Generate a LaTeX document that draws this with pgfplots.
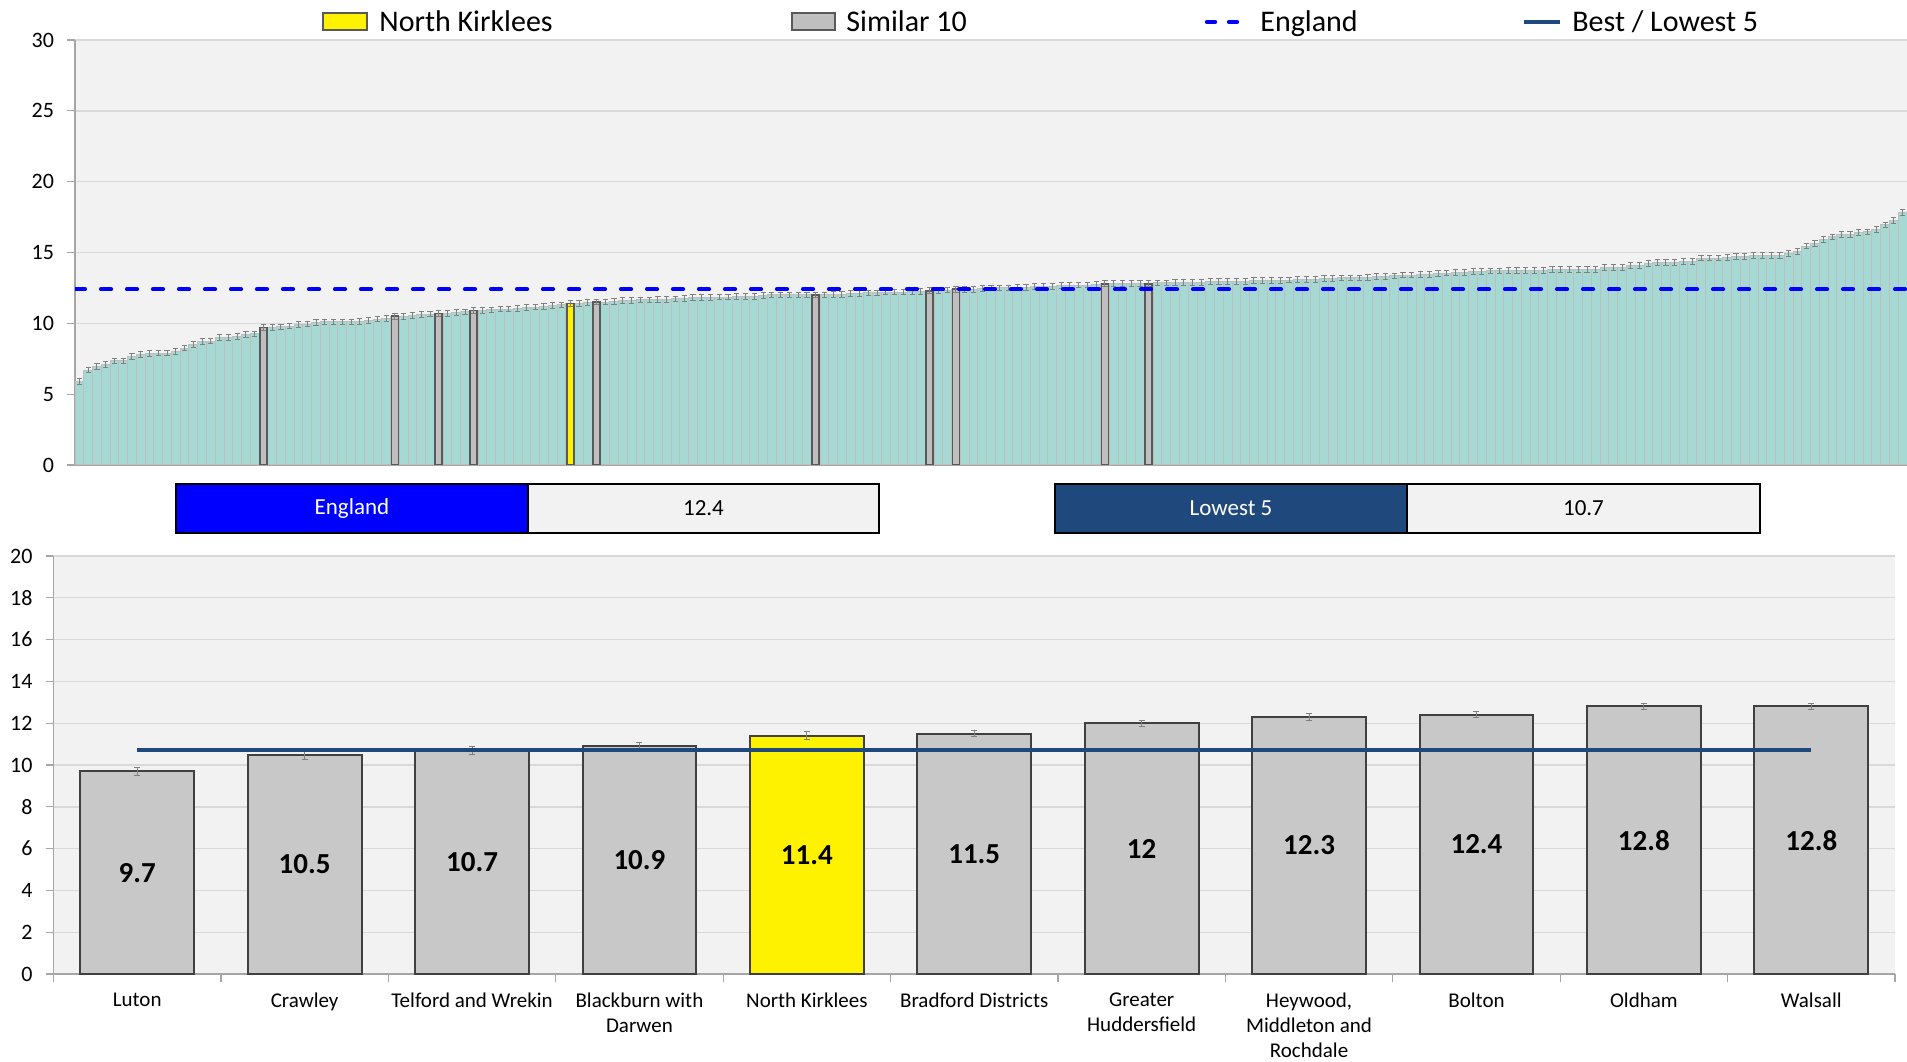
\documentclass[border=0pt]{standalone}
\usepackage{fontspec}
\setmainfont{Carlito}
\usepackage{pgfplots}
\pgfplotsset{compat=1.18}

\definecolor{tealbar}{RGB}{166,217,211}
\definecolor{tealedge}{RGB}{190,190,190}
\definecolor{simfill}{RGB}{191,191,191}
\definecolor{simedge}{RGB}{89,89,89}
\definecolor{botfill}{RGB}{200,200,200}
\definecolor{botedge}{RGB}{64,64,64}
\definecolor{plotbg}{RGB}{242,242,242}
\definecolor{gridc}{RGB}{217,217,217}
\definecolor{axisc}{RGB}{166,166,166}
\definecolor{engblue}{RGB}{0,0,255}
\definecolor{navy}{RGB}{31,73,125}
\definecolor{errc}{RGB}{128,128,128}

\pgfplotsset{
  chartbase/.style={
    scale only axis,
    axis x line*=bottom, axis y line*=left,
    axis line style={-, draw=axisc, line width=0.8pt},
    axis background/.style={fill=plotbg},
    ymajorgrids, grid style={draw=gridc, line width=0.7pt},
    tick align=outside, major tick length=4pt,
    tick style={draw=axisc, line width=0.6pt},
    /pgf/number format/assume math mode=true,
    yticklabel style={font=\fontsize{11}{13}\selectfont, xshift=-3pt},
  },
  barbase/.style={ybar, bar shift=0pt},
  errtop/.style={
    error bars/y dir=both, error bars/y fixed=0.2,
    error bars/error bar style={draw=errc, line width=0.5pt},
    error bars/error mark options={rotate=90, draw=errc, mark size=1.3pt, line width=0.5pt},
  },
  errbot/.style={
    error bars/y dir=both, error bars/y explicit,
    error bars/error bar style={draw=errc, line width=0.5pt},
    error bars/error mark options={rotate=90, draw=errc, mark size=1.5pt, line width=0.5pt},
  },
  valnodes/.style={
    nodes near coords,
    visualization depends on={y \as \rawy},
    every node near coord/.append style={
      font=\bfseries\fontsize{14.5}{16}\selectfont, text=black,
      anchor=center, shift={(axis direction cs:0,-\rawy/2)}},
  },
}

\begin{document}
\begin{tikzpicture}[x=1pt,y=1pt]

% all CCGs, sorted
\begin{axis}[chartbase,
  at={(37.5pt,298pt)}, anchor=south west, width=916pt, height=212.5pt,
  xmin=-0.5, xmax=208.5, ymin=0, ymax=30, ytick={0,5,...,30}, xtick=\empty]
\addplot[barbase, bar width=1, fill=tealbar, draw=tealedge, line width=0.5pt, errtop] coordinates {
(0,5.9) (1,6.7) (2,6.95) (3,7.1) (4,7.35) (5,7.35) (6,7.65) (7,7.8) (8,7.85) (9,7.9)
(10,7.9) (11,8.0) (12,8.25) (13,8.5) (14,8.7) (15,8.75) (16,9.0) (17,9.0) (18,9.05) (19,9.2)
(20,9.25) (21,9.7) (22,9.7) (23,9.75) (24,9.8) (25,9.9) (26,9.95) (27,10.05) (28,10.1) (29,10.1)
(30,10.1) (31,10.1) (32,10.15) (33,10.2) (34,10.3) (35,10.35) (36,10.5) (37,10.5) (38,10.55) (39,10.6)
(40,10.65) (41,10.7) (42,10.7) (43,10.75) (44,10.8) (45,10.9) (46,10.9) (47,10.95) (48,11.0) (49,11.0)
(50,11.05) (51,11.1) (52,11.15) (53,11.2) (54,11.25) (55,11.3) (56,11.4) (57,11.4) (58,11.45) (59,11.5)
(60,11.5) (61,11.55) (62,11.6) (63,11.6) (64,11.65) (65,11.65) (66,11.7) (67,11.7) (68,11.72) (69,11.75)
(70,11.8) (71,11.8) (72,11.82) (73,11.85) (74,11.85) (75,11.88) (76,11.9) (77,11.9) (78,11.95) (79,12.0)
(80,12.0) (81,12.0) (82,12.0) (83,12.0) (84,12.0) (85,12.0) (86,12.05) (87,12.05) (88,12.1) (89,12.1)
(90,12.15) (91,12.15) (92,12.2) (93,12.2) (94,12.2) (95,12.25) (96,12.25) (97,12.3) (98,12.3) (99,12.35)
(100,12.4) (101,12.4) (102,12.4) (103,12.45) (104,12.5) (105,12.5) (106,12.5) (107,12.55) (108,12.55) (109,12.6)
(110,12.6) (111,12.6) (112,12.65) (113,12.65) (114,12.7) (115,12.7) (116,12.75) (117,12.8) (118,12.8) (119,12.8)
(120,12.8) (121,12.8) (122,12.8) (123,12.85) (124,12.85) (125,12.9) (126,12.9) (127,12.9) (128,12.9) (129,12.95)
(130,12.95) (131,12.95) (132,12.95) (133,12.95) (134,13.0) (135,13.0) (136,13.0) (137,13.0) (138,13.05) (139,13.1)
(140,13.1) (141,13.1) (142,13.15) (143,13.15) (144,13.2) (145,13.2) (146,13.2) (147,13.25) (148,13.3) (149,13.3)
(150,13.35) (151,13.4) (152,13.4) (153,13.45) (154,13.45) (155,13.5) (156,13.55) (157,13.6) (158,13.6) (159,13.65)
(160,13.65) (161,13.7) (162,13.7) (163,13.75) (164,13.75) (165,13.75) (166,13.75) (167,13.75) (168,13.8) (169,13.8)
(170,13.8) (171,13.8) (172,13.8) (173,13.8) (174,13.95) (175,13.95) (176,13.95) (177,14.1) (178,14.1) (179,14.2)
(180,14.3) (181,14.3) (182,14.3) (183,14.35) (184,14.35) (185,14.6) (186,14.6) (187,14.6) (188,14.65) (189,14.7)
(190,14.7) (191,14.8) (192,14.8) (193,14.8) (194,14.8) (195,14.95) (196,15.05) (197,15.45) (198,15.65) (199,15.9)
(200,16.1) (201,16.25) (202,16.25) (203,16.4) (204,16.45) (205,16.6) (206,16.95) (207,17.25) (208,17.8)
};
% similar 10
\addplot[barbase, bar width=0.8, fill=simfill, draw=simedge, line width=0.9pt, errtop] coordinates {
(21,9.7) (36,10.5) (41,10.7) (45,10.9) (59,11.5) (84,12.0) (97,12.3) (100,12.4) (117,12.8) (122,12.8)
};
% North Kirklees
\addplot[barbase, bar width=0.8, fill=yellow, draw=simedge, line width=0.9pt, errtop] coordinates {(56,11.4)};
% England
\addplot[sharp plot, draw=engblue, line width=2.1pt, line cap=round, dash pattern=on 5pt off 8pt] coordinates {(-0.5,12.4) (208.5,12.4)};
\end{axis}

% similar 10 detail
\begin{axis}[chartbase,
  at={(26.75pt,43.5pt)}, anchor=south west, width=920.75pt, height=209pt,
  xmin=-0.5, xmax=10.5, ymin=0, ymax=20, ytick={0,2,...,20},
  xtick={-0.5,0.5,...,10.5}, xticklabels={},
  extra x ticks={0,1,...,10},
  extra x tick labels={Luton, Crawley, Telford and Wrekin, {Blackburn with\\Darwen}, North Kirklees,
    Bradford Districts, {Greater\\Huddersfield}, {Heywood,\\Middleton and\\Rochdale}, Bolton, Oldham, Walsall},
  extra x tick style={major tick length=0pt,
    xticklabel style={font=\fontsize{10.5}{12.4}\selectfont, align=center, anchor=north, yshift=-6pt}},
]
\addplot[barbase, bar width=0.68, fill=botfill, draw=botedge, line width=1pt, errbot, valnodes] coordinates {
(0,9.7) +- (0,0.2)
(1,10.5) +- (0,0.25)
(2,10.7) +- (0,0.2)
(3,10.9) +- (0,0.2)
(5,11.5) +- (0,0.15)
(6,12.0) +- (0,0.15)
(7,12.3) +- (0,0.15)
(8,12.4) +- (0,0.15)
(9,12.8) +- (0,0.15)
(10,12.8) +- (0,0.15)
};
\addplot[barbase, bar width=0.68, fill=yellow, draw=botedge, line width=1pt, errbot, valnodes] coordinates {
(4,11.4) +- (0,0.2)
};
% lowest 5
\addplot[sharp plot, draw=navy, line width=2.1pt] coordinates {(0,10.7) (10,10.7)};
\end{axis}

% legend
\begin{scope}[font=\fontsize{15}{17}\selectfont]
\draw[fill=yellow, draw=simedge, line width=0.8pt] (161.5,515.5) rectangle (183.5,524);
\node[anchor=base west, inner sep=0pt] at (189.5,514.6) {North Kirklees};
\draw[fill=simfill, draw=simedge, line width=0.8pt] (396,515.5) rectangle (417.5,524);
\node[anchor=base west, inner sep=0pt] at (423,514.6) {Similar 10};
\draw[engblue, line width=2.2pt, line cap=round, dash pattern=on 4pt off 7pt] (603.5,519.5) -- (624,519.5);
\node[anchor=base west, inner sep=0pt] at (630,514.6) {England};
\draw[navy, line width=2.2pt] (762,519.5) -- (780,519.5);
\node[anchor=base west, inner sep=0pt] at (786,514.6) {Best / Lowest 5};
\end{scope}

% value boxes
\begin{scope}[font=\fontsize{11.5}{13}\selectfont]
\draw[line width=1.1pt, fill=engblue] (88,264) rectangle (264,288.5);
\node[text=white] at (176,276.25) {England};
\draw[line width=1.1pt, fill=plotbg] (264,264) rectangle (439.5,288.5);
\node at (351.75,276.25) {12.4};
\draw[line width=1.1pt, fill=navy] (527.5,264) rectangle (703.5,288.5);
\node[text=white] at (615.5,276.25) {Lowest 5};
\draw[line width=1.1pt, fill=plotbg] (703.5,264) rectangle (880,288.5);
\node at (791.75,276.25) {10.7};
\end{scope}

\pgfresetboundingbox
\path[use as bounding box] (0,0) rectangle (953.5,530.5);
\end{tikzpicture}
\end{document}
